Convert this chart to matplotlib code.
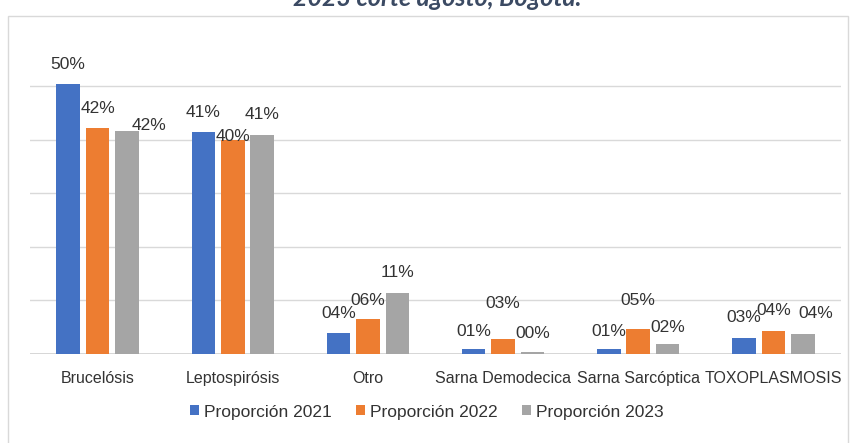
import matplotlib
matplotlib.use("Agg")
from matplotlib import pyplot as plt
from matplotlib.patches import Rectangle
import numpy as np

# Proporcion de casos por enfermedad y año
categorias = ["Brucelósis", "Leptospirósis", "Otro", "Sarna Demodecica",
              "Sarna Sarcóptica", "TOXOPLASMOSIS"]
prop_2021 = [0.503, 0.414, 0.039, 0.009, 0.009, 0.030]
prop_2022 = [0.421, 0.400, 0.065, 0.028, 0.046, 0.043]
prop_2023 = [0.416, 0.409, 0.114, 0.004, 0.018, 0.038]
series = ["Proporción 2021", "Proporción 2022", "Proporción 2023"]

colores = ["#4472C4", "#ED7D31", "#A5A5A5"]
fuente = ["Liberation Sans Narrow", "Liberation Sans"]
color_txt = "#333333"

# desplazamiento de cada etiqueta (pixeles) respecto al tope de la barra
desp = {
    0: [(0, 20), (0, 20), (0, 20)],
    1: [(0, 20), (0, 20), (0, 20)],
    2: [(0, 20), (0, 19), (0, 20)],
    3: [(0, 18), (0, 35), (0, 18)],
    4: [(0, 18), (0, 29), (0, 17)],
    5: [(0, 20), (0, 20), (0, 20)],
}
desp[0][2] = (22, 6)
desp[1][1] = (0, 3)
desp[5][2] = (13, 20)

W, H = 854, 443
fig = plt.figure(figsize=(W / 100, H / 100), dpi=100)
fig.patch.set_facecolor("white")

# marco del grafico
fig.patches.append(Rectangle((8 / W, -0.01), 840 / W, 1 - 16 / H + 0.01,
                             transform=fig.transFigure, fill=False,
                             edgecolor="#d9d9d9", linewidth=1))

# titulo cortado en el borde superior
fig.text(437 / W, 1 - 6 / H, "2023 corte agosto, Bogotá.", ha="center",
         va="baseline", fontsize=18, fontweight="bold", fontstyle="italic",
         color="#3B4A63", family=["Lato", "DejaVu Sans"])

y0 = 354
y_top = y0 - 0.55 * 536
ax = fig.add_axes([30 / W, 1 - y0 / H, 811 / W, (y0 - y_top) / H])
ax.set_xlim(-0.5, 5.5)
ax.set_ylim(0, 0.55)

x = np.arange(len(categorias))
ancho = 0.174
paso = 0.218
for k, datos in enumerate([prop_2021, prop_2022, prop_2023]):
    pos = x + (k - 1) * paso
    ax.bar(pos, datos, width=ancho, color=colores[k], label=series[k], zorder=3)
    for i, v in enumerate(datos):
        dx, dy = desp[i][k]
        ax.annotate("%02d%%" % round(v * 100), (pos[i], v), xytext=(dx, dy),
                    textcoords="offset pixels", ha="center", va="center",
                    fontsize=12.5, family=fuente, color=color_txt, zorder=4)

ax.set_yticks([0.1, 0.2, 0.3, 0.4, 0.5])
ax.set_yticklabels([])
ax.grid(axis="y", color="#d9d9d9", linewidth=1, zorder=0)
ax.axhline(0, color="#d0d0d0", linewidth=1.2, zorder=2)
ax.tick_params(axis="y", length=0)
ax.tick_params(axis="x", length=0, pad=12)
ax.set_xticks(x)
ax.set_xticklabels(categorias, fontsize=11.5, family=fuente, color=color_txt)
for s in ax.spines.values():
    s.set_visible(False)

fig.legend(loc="center", bbox_to_anchor=(427 / W, 1 - 412 / H), ncol=3,
           frameon=False, handlelength=0.5, handleheight=0.5,
           handletextpad=0.3, columnspacing=1.4,
           prop={"family": fuente, "size": 12.5}, labelcolor=color_txt)

fig.savefig("out.png", dpi=100)
